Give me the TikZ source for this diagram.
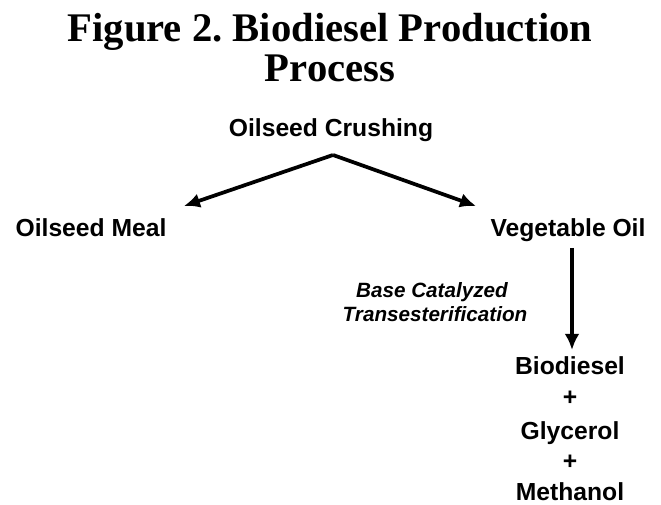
\documentclass[tikz,border=0pt]{standalone}
\usepackage{fontspec}
\setmainfont{Liberation Serif}
\setsansfont{Liberation Sans}
\usetikzlibrary{arrows.meta}
\frenchspacing

\tikzset{
    step label/.style={font=\sffamily\bfseries\fontsize{18.5}{20}\selectfont, inner sep=0pt, anchor=base},
    path label/.style={font=\sffamily\bfseries\itshape\fontsize{15.5}{18}\selectfont, inner sep=0pt, anchor=base},
    flow/.style={line width=2.8pt, -{Latex[length=12pt, width=11pt]}}
}

\begin{document}
\begin{tikzpicture}[x=0.75pt, y=-0.75pt]
    \useasboundingbox (0,0) rectangle (661,505);

    % title, two lines
    \node[font=\bfseries\fontsize{30.5}{30}\selectfont, align=center, inner sep=0pt, anchor=base]
        (title) at (330,82) {Figure 2. Biodiesel Production\\Process};

    \node[step label] (crush) at (331,137) {Oilseed Crushing};
    \node[step label] (meal) at (91,237) {Oilseed Meal};
    \node[step label] (vegoil) at (568,237) {Vegetable Oil};

    \coordinate (fork) at (333,155);
    \coordinate (mealtip) at (184,206);
    \coordinate (oiltip) at (476,206);
    \draw[flow] (fork) -- (mealtip);
    \draw[flow] (fork) -- (oiltip);

    \node[step label] (bio) at (570,375) {Biodiesel};
    \node[step label, anchor=center] (plus1) at (570,398) {+};
    \node[step label] (gly) at (570,440) {Glycerol};
    \node[step label, anchor=center] (plus2) at (570,462) {+};
    \node[step label] (meth) at (570,501) {Methanol};

    \coordinate (drop) at (572,248);
    \coordinate (droptip) at (572,350);
    \draw[flow] (drop) -- (droptip);

    \node[path label] (cat1) at (432,298) {Base Catalyzed};
    \node[path label] (cat2) at (435,322) {Transesterification};
\end{tikzpicture}
\end{document}
